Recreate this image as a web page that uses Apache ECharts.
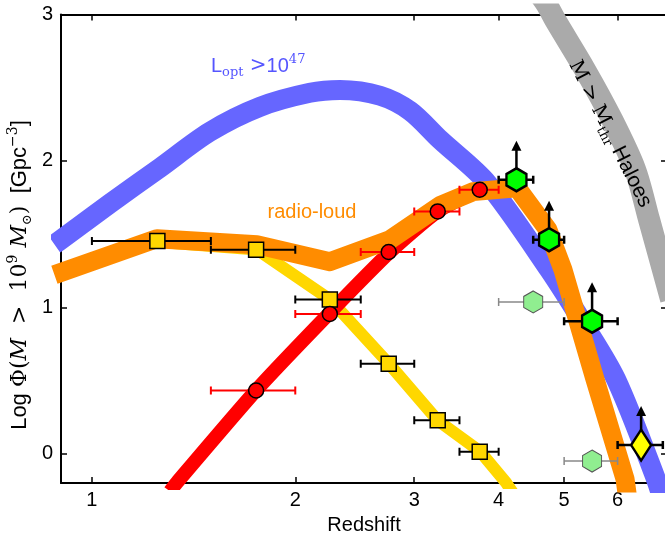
<!DOCTYPE html>
<html>
<head>
<meta charset="utf-8">
<script src="https://cdn.jsdelivr.net/npm/echarts@6/dist/echarts.min.js"></script>
<style>html,body{margin:0;padding:0;background:#fff}#chart{width:665px;height:541px}</style>
</head>
<body>
<div id="chart"></div>
<script>
// tick labels
var xTicks = [1, 2, 3, 4, 5, 6];
var yTicks = [0, 1, 2, 3];

// model bands: redshift / log Phi
var blueZ = [0.88, 0.90, 1.063, 1.261, 1.495, 1.773, 2.102, 2.329, 2.67, 2.96, 3.276, 3.845, 4.75, 5.35, 5.97, 6.84, 7.03];
var blueV = [1.43, 1.462, 1.708, 1.953, 2.199, 2.369, 2.465, 2.485, 2.445, 2.34, 2.145, 1.85, 1.257, 0.882, 0.507, -0.175, -0.35];
var orangeZ = [0.88, 1.248, 1.755, 2.251, 2.762, 3.276, 3.665, 4.26, 4.73, 4.98, 5.556, 6.155, 6.2];
var orangeV = [1.223, 1.469, 1.428, 1.312, 1.462, 1.695, 1.79, 1.816, 1.53, 1.257, 0.507, -0.175, -0.28];
var yellowZ = [1.248, 1.755, 2.251, 2.75, 3.25, 3.754, 4.10, 4.23];
var yellowV = [1.448, 1.394, 1.053, 0.616, 0.227, 0.016, -0.196, -0.29];
var redZ = [1.305, 1.336, 1.749, 2.251, 2.762, 3.25, 3.754];
var redV = [-0.257, -0.196, 0.432, 0.964, 1.378, 1.655, 1.803];
var greyZ = [4.575, 4.717, 4.85, 5.37, 5.89, 6.37, 6.68, 7.2];
var greyV = [3.153, 3.065, 2.963, 2.622, 2.281, 1.94, 1.598, 1.053];

// data points
var sqZ = [1.25, 1.75, 2.25, 2.75, 3.25, 3.75];
var sqLo = [1.0, 1.5, 2.0, 2.5, 3.0, 3.5];
var sqHi = [1.5, 2.0, 2.5, 3.0, 3.5, 4.0];
var sqV = [1.453, 1.394, 1.053, 0.614, 0.229, 0.014];
var circZ = [1.75, 2.25, 2.75, 3.25, 3.75];
var circLo = [1.5, 2.0, 2.5, 3.0, 3.5];
var circHi = [2.0, 2.5, 3.0, 3.5, 4.0];
var circV = [0.432, 0.955, 1.378, 1.655, 1.803];
var hexZ = [4.25, 4.75, 5.5];
var hexLo = [4.0, 4.5, 5.0];
var hexHi = [4.5, 5.0, 6.0];
var hexV = [1.871, 1.462, 0.905];
var lhexZ = [4.5, 5.5];
var lhexLo = [4.0, 5.0];
var lhexHi = [5.0, 6.0];
var lhexV = [1.037, -0.05];
var dmZ = [6.5];
var dmLo = [6.0];
var dmHi = [7.0];
var dmV = [0.059];

function lg(z) { return Math.log10(z); }
function pts(zs, vs) { return zs.map(function (z, i) { return [lg(z), vs[i]]; }); }
function bars(lo, hi, vs) { return lo.map(function (l, i) { return [lg(l), lg(hi[i]), vs[i]]; }); }

var FONT = 'Liberation Sans';
var SERIF = 'DejaVu Serif';
var hexPath = 'path://M0,0 L8.66,5 L8.66,15 L0,20 L-8.66,15 L-8.66,5 Z';

function errRender(color, w, cap) {
    return function (params, api) {
        var a = api.coord([api.value(0), api.value(2)]);
        var b = api.coord([api.value(1), api.value(2)]);
        var st = {stroke: color, lineWidth: w};
        return {type: 'group', children: [
            {type: 'line', shape: {x1: a[0], y1: a[1], x2: b[0], y2: b[1]}, style: st},
            {type: 'line', shape: {x1: a[0], y1: a[1] - cap, x2: a[0], y2: a[1] + cap}, style: st},
            {type: 'line', shape: {x1: b[0], y1: b[1] - cap, x2: b[0], y2: b[1] + cap}, style: st}
        ]};
    };
}

function arrowRender(params, api) {
    var p = api.coord([api.value(0), api.value(1)]);
    var top = p[1] - 39;
    return {type: 'group', children: [
        {type: 'line', shape: {x1: p[0], y1: p[1], x2: p[0], y2: top + 6}, style: {stroke: '#000', lineWidth: 2.5}},
        {type: 'polygon', shape: {points: [[p[0], top], [p[0] - 5, top + 10], [p[0] + 5, top + 10]]}, style: {fill: '#000'}}
    ]};
}

function band(data, color, width, smooth, z) {
    return {type: 'line', data: data, showSymbol: false, smooth: smooth, clip: true, z: z, silent: true,
        lineStyle: {color: color, width: width, join: 'round', cap: 'butt'}};
}
function errSeries(data, color, w, cap, z) {
    return {type: 'custom', data: data, renderItem: errRender(color, w, cap), encode: {x: [0, 1], y: 2}, z: z, silent: true, clip: true};
}

var xAxisBase = {
    type: 'value', min: lg(0.9), max: lg(7.1), splitLine: {show: false},
    axisLine: {onZero: false, lineStyle: {color: '#000', width: 2}},
    axisTick: {inside: true, length: 6, lineStyle: {color: '#000', width: 1.5}, customValues: xTicks.map(lg)},
    axisLabel: {customValues: xTicks.map(lg), margin: 7, color: '#000', fontFamily: FONT, fontSize: 20,
        formatter: function (v) { return String(Math.round(Math.pow(10, v))); }}
};
var yAxisBase = {
    type: 'value', min: -0.2, max: 3, splitLine: {show: false},
    axisLine: {onZero: false, lineStyle: {color: '#000', width: 2}},
    axisTick: {inside: true, length: 6, lineStyle: {color: '#000', width: 1.5}, customValues: yTicks},
    axisLabel: {customValues: yTicks, margin: 8, color: '#000', fontFamily: FONT, fontSize: 20}
};

var chart = echarts.init(document.getElementById('chart'), null, {renderer: 'canvas'});
var option = {
    animation: false,
    grid: {left: 61, right: -2, top: 14.5, bottom: 58, containLabel: false, outerBoundsMode: 'none'},
    xAxis: [
        Object.assign({}, xAxisBase, {position: 'bottom', name: 'Redshift', nameLocation: 'middle', nameGap: 32,
            nameTextStyle: {fontFamily: FONT, fontSize: 20, color: '#000'}}),
        Object.assign({}, xAxisBase, {position: 'top', axisLabel: {show: false}})
    ],
    yAxis: [
        Object.assign({}, yAxisBase, {position: 'left'}),
        Object.assign({}, yAxisBase, {position: 'right', axisLabel: {show: false}})
    ],
    graphic: [
        {type: 'text', x: 211, y: 66, z: 100, style: {
            text: '{a|L}{b|opt}{c| >}{a|10}{d|47}', fill: '#5555ff', verticalAlign: 'middle',
            rich: {
                a: {fontFamily: FONT, fontSize: 20, lineHeight: 26, color: '#5555ff'},
                b: {fontFamily: SERIF, fontSize: 13, lineHeight: 13, verticalAlign: 'bottom', color: '#5555ff'},
                c: {fontFamily: SERIF, fontSize: 20, lineHeight: 26, color: '#5555ff'},
                d: {fontFamily: SERIF, fontSize: 13, lineHeight: 13, verticalAlign: 'top', color: '#5555ff'}
            }}},
        {type: 'text', x: 312, y: 212, z: 100, style: {text: 'radio-loud', fill: '#ff8c00', font: '20px "Liberation Sans"', align: 'center', verticalAlign: 'middle'}},
        {type: 'text', x: 610, y: 134, z: 100, rotation: -63.3 * Math.PI / 180, style: {
            text: '{m|M > M}{s|thr}{n| Haloes}', align: 'center', verticalAlign: 'middle',
            rich: {
                m: {fontFamily: SERIF, fontSize: 20, lineHeight: 26, color: '#111'},
                s: {fontFamily: SERIF, fontSize: 13, lineHeight: 13, verticalAlign: 'bottom', color: '#111'},
                n: {fontFamily: FONT, fontSize: 21, lineHeight: 26, color: '#111'}
            }}},
        {type: 'text', x: 20, y: 275, z: 100, rotation: Math.PI / 2, style: {
            text: '{s|Log }{m|\u03a6(}{i|M}{m|  >  10}{p|9}{m| }{i|M}{q|\u2299}{m|)}{s|  [Gpc}{p|\u22123}{s|]}',
            align: 'center', verticalAlign: 'middle',
            rich: {
                s: {fontFamily: FONT, fontSize: 22, lineHeight: 28, color: '#000'},
                m: {fontFamily: SERIF, fontSize: 22, lineHeight: 28, color: '#000'},
                i: {fontFamily: SERIF, fontSize: 22, fontStyle: 'italic', lineHeight: 28, color: '#000'},
                p: {fontFamily: SERIF, fontSize: 14, lineHeight: 14, verticalAlign: 'top', color: '#000'},
                q: {fontFamily: SERIF, fontSize: 13, lineHeight: 13, verticalAlign: 'bottom', color: '#000'}
            }}}
    ],
    series: [
        band(pts(blueZ, blueV), '#6666ff', 20, 0.3, 1),
        band(pts(greyZ, greyV), '#aaaaaa', 22, 0.3, 2),
        band(pts(yellowZ, yellowV), '#ffd700', 12, false, 3),
        band(pts(redZ, redV), '#ff0000', 14, 0.2, 4),
        band(pts(orangeZ, orangeV), '#ff8c00', 19, false, 5),
        errSeries(bars(lhexLo, lhexHi, lhexV), '#888888', 1.5, 4, 6),
        errSeries(bars(sqLo, sqHi, sqV), '#000000', 2, 4, 6),
        errSeries(bars(circLo, circHi, circV), '#ff0000', 2, 4, 6),
        errSeries(bars(hexLo, hexHi, hexV), '#000000', 2.5, 4, 6),
        errSeries(bars(dmLo, dmHi, dmV), '#000000', 2.5, 4, 6),
        {type: 'custom', data: pts(hexZ.concat(dmZ), hexV.concat(dmV)), renderItem: arrowRender, z: 7, silent: true},
        {type: 'scatter', data: pts(lhexZ, lhexV), symbol: hexPath, symbolSize: [19, 22], z: 8, silent: true,
            itemStyle: {color: '#90ee90', borderColor: '#555', borderWidth: 1, opacity: 1}},
        {type: 'scatter', data: pts(sqZ, sqV), symbol: 'rect', symbolSize: 15, z: 8, silent: true,
            itemStyle: {color: '#ffd700', borderColor: '#000', borderWidth: 1.5, opacity: 1}},
        {type: 'scatter', data: pts(circZ, circV), symbol: 'circle', symbolSize: 15, z: 8, silent: true,
            itemStyle: {color: '#ff0000', borderColor: '#000', borderWidth: 1.5, opacity: 1}},
        {type: 'scatter', data: pts(hexZ, hexV), symbol: hexPath, symbolSize: [20, 23], z: 8, silent: true,
            itemStyle: {color: '#00ff00', borderColor: '#000', borderWidth: 2.5, opacity: 1}},
        {type: 'scatter', data: pts(dmZ, dmV), symbol: 'diamond', symbolSize: [20, 31], z: 8, silent: true,
            itemStyle: {color: '#ffff00', borderColor: '#000', borderWidth: 2.5, opacity: 1}}
    ]
};
chart.setOption(option);
</script>
</body>
</html>
